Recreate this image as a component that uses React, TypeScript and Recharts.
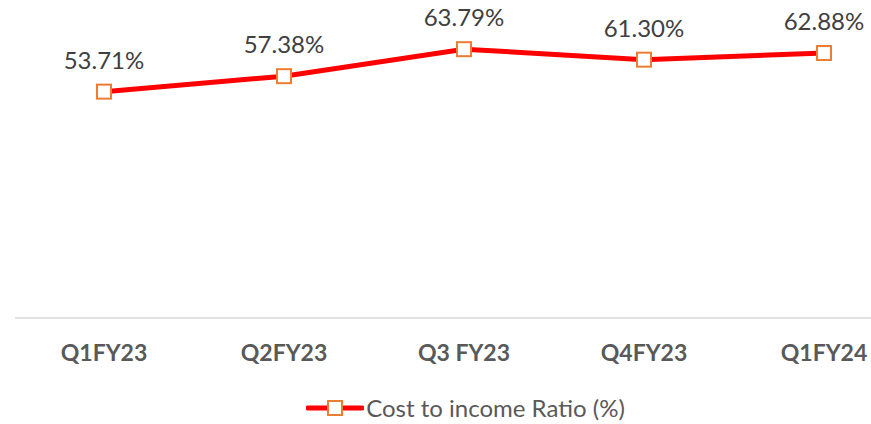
import React from 'react';
import { LineChart, Line, XAxis, YAxis, LabelList, Legend } from 'recharts';

// Quarterly cost to income ratio
const quarters = ['Q1FY23', 'Q2FY23', 'Q3 FY23', 'Q4FY23', 'Q1FY24'];
const ratios = [53.71, 57.38, 63.79, 61.3, 62.88];
const seriesName = 'Cost to income Ratio (%)';

const data = quarters.map((q, i) => ({ quarter: q, ratio: ratios[i] }));

const LINE_RED = '#FF0000';
const MARKER_ORANGE = '#ED7D31';
const FONT = 'Lato, "Open Sans", sans-serif';

const SquareDot = (props: any) => {
  const { cx, cy } = props;
  if (cx == null || cy == null) return null;
  return (
    <rect x={cx - 7} y={cy - 7} width={14} height={14} fill="#fff" stroke={MARKER_ORANGE} strokeWidth={2} />
  );
};

const ValueLabel = (props: any) => {
  const { x, y, value } = props;
  return (
    <text x={x} y={y - 23} textAnchor="middle" fill="#404040" fontSize={24} fontFamily={FONT}>
      {value.toFixed(2)}%
    </text>
  );
};

const QuarterTick = (props: any) => {
  const { x, y, payload } = props;
  return (
    <text x={x} y={y} dy={35} textAnchor="middle" fill="#595959" fontSize={23} fontWeight="bold" fontFamily={FONT}>
      {payload.value}
    </text>
  );
};

const LegendContent = () => (
  <div style={{ display: 'flex', justifyContent: 'center', alignItems: 'center', fontFamily: FONT }}>
    <svg width={58} height={16} style={{ marginRight: 2 }}>
      <line x1={2} y1={8} x2={56} y2={8} stroke={LINE_RED} strokeWidth={5} strokeLinecap="round" />
      <rect x={22} y={1} width={14} height={14} fill="#fff" stroke={MARKER_ORANGE} strokeWidth={2} />
    </svg>
    <span style={{ fontSize: 24, color: '#595959' }}>{seriesName}</span>
  </div>
);

const App = () => {
  return (
    <div style={{ position: 'absolute', left: 0, top: 0, background: '#fff' }}>
      <LineChart width={871} height={424} data={data} margin={{ top: 23, right: 0, left: 15, bottom: 0 }}>
        <XAxis
          dataKey="quarter"
          axisLine={{ stroke: '#D9D9D9', strokeWidth: 1.5 }}
          tickLine={false}
          tick={<QuarterTick />}
          height={50}
          padding={{ left: 89, right: 47 }}
          interval={0}
        />
        <YAxis hide domain={[0, 70]} />
        <Legend
          verticalAlign="bottom"
          height={56}
          content={<LegendContent />}
          wrapperStyle={{ top: 393, left: 30, width: 871 }}
        />
        <Line
          dataKey="ratio"
          name={seriesName}
          stroke={LINE_RED}
          strokeWidth={5}
          dot={<SquareDot />}
          activeDot={false}
          isAnimationActive={false}
        >
          <LabelList dataKey="ratio" content={<ValueLabel />} />
        </Line>
      </LineChart>
    </div>
  );
};

export default App;
